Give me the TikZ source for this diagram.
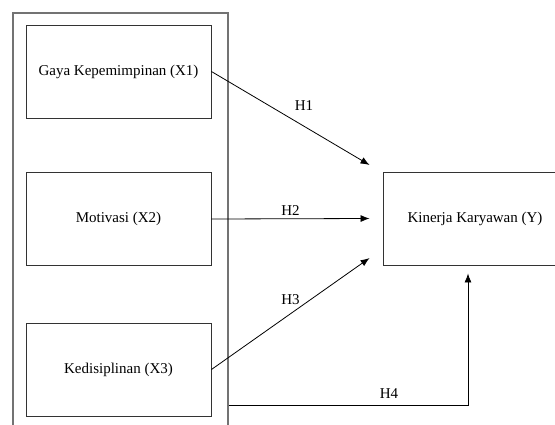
\documentclass[tikz,border=0pt]{standalone}
\usepackage{fontspec}
\setmainfont{Liberation Serif}
\usetikzlibrary{arrows.meta,positioning}

\begin{document}
\begin{tikzpicture}[
    x=1pt, y=-1pt,
    variabel/.style={rectangle, draw=black!80, line width=0.9pt, minimum width=185pt, minimum height=93pt, text centered, font=\fontsize{15}{18}\selectfont},
    grup/.style={rectangle, draw=black!55, line width=1.1pt, minimum width=215pt, minimum height=430pt},
    arrow/.style={line width=0.8pt, -{Latex[length=9pt,width=7pt]}},
    hlabel/.style={font=\fontsize{15}{18}\selectfont}
]

\clip (0,0) rectangle (555,424);

% Group of independent variables
\node[grup] (grup) at (120.5,228) {};

% Independent variables
\node[variabel] (x1) at (118.5,71.5) {Gaya Kepemimpinan (X1)};
\node[variabel] (x2) at (118.5,219) {Motivasi (X2)};
\node[variabel] (x3) at (118.5,369.5) {Kedisiplinan (X3)};

% Dependent variable
\node[variabel, minimum width=184pt] (y) at (475,218.5) {Kinerja Karyawan (Y)};

% Hypotheses
\draw[arrow] (x1.east) -- node[hlabel, pos=.585, above=12pt] {H1} ([xshift=-13pt,yshift=53.5pt]y.west);
\draw[arrow] (x2.east) -- node[hlabel, midway, above=0pt] {H2} ([xshift=-13pt]y.west);
\draw[arrow] (x3.east) -- node[hlabel, midway, above=5pt] {H3} ([xshift=-13pt,yshift=-39.5pt]y.west);

\coordinate (h4) at (468,405);
\draw[arrow, shorten >=8pt] (grup.east |- h4) -- node[hlabel, pos=.67, above=3pt] {H4} (h4) -- (y.south -| h4);

\end{tikzpicture}
\end{document}
